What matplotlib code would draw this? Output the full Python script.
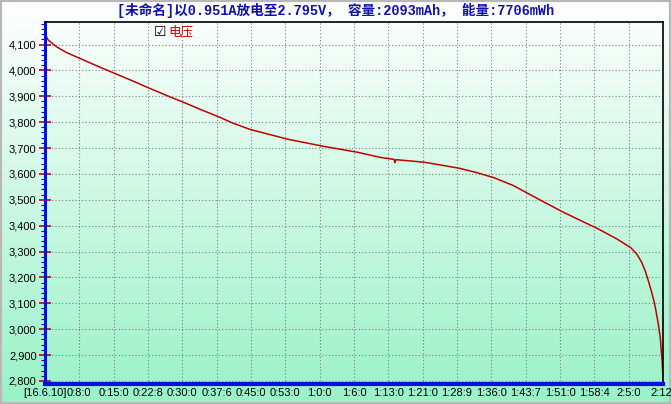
import numpy as np
import matplotlib
matplotlib.use('Agg')
import matplotlib.pyplot as plt
from matplotlib.ticker import MultipleLocator, FuncFormatter
from matplotlib.patches import Rectangle

plt.rcParams['font.family'] = ['Liberation Sans', 'Noto Sans CJK SC', 'DejaVu Sans']

# 放电曲线 (时间: 分钟, 电压: mV)
time_min = [0.0, 0.7, 2.5, 4.6, 8.0, 11.8, 15.1, 18.9, 22.2, 26.0, 30.1, 33.1,
            37.2, 40.2, 43.8, 51.9, 59.4, 66.7, 71.6, 74.6, 74.8, 75.0, 81.1,
            88.5, 92.3, 96.0, 100.1, 103.5, 107.2, 111.0, 114.7, 118.4, 122.2,
            125.2, 126.5, 127.5, 128.3, 129.0, 129.8, 130.4, 131.0, 131.5, 131.9,
            132.05, 132.1]
volt_mv = [4140, 4117, 4091, 4069, 4042, 4012, 3987, 3958, 3932, 3903, 3873, 3850,
           3820, 3796, 3772, 3734, 3707, 3684, 3664, 3656, 3643, 3655, 3645,
           3622, 3605, 3585, 3555, 3522, 3486, 3450, 3418, 3386, 3349,
           3315, 3290, 3260, 3225, 3185, 3135, 3090, 3030, 2970, 2880,
           2830, 2796]

x_labels = ['[16.6.10]', '0:8:0', '0:15:0', '0:22:8', '0:30:0', '0:37:6', '0:45:0',
            '0:53:0', '1:0:0', '1:6:0', '1:13:0', '1:21:0', '1:28:9', '1:36:0',
            '1:43:7', '1:51:0', '1:58:4', '2:5:0', '2:12:']
t_max = 132.1

title = '[未命名]以0.951A放电至2.795V， 容量:2093mAh， 能量:7706mWh'

fig = plt.figure(figsize=(6.71, 4.04), dpi=100)

# 背景渐变 (白 -> 浅绿)
bg = fig.add_axes([0, 0, 1, 1], zorder=-10)
grad = np.linspace(0, 1, 256)[:, None]
top_c = np.array([1.0, 1.0, 1.0])
bot_c = np.array([0.60, 0.95, 0.78])
img = top_c[None, None, :] * (1 - grad[:, :, None]) + bot_c[None, None, :] * grad[:, :, None]
bg.imshow(img, aspect='auto', extent=[0, 1, 0, 1], origin='upper')
bg.add_patch(Rectangle((0, 0), 1, 1, transform=bg.transAxes, fill=False,
                       edgecolor='#b8b8b8', lw=3))
bg.axis('off')

ax = fig.add_axes([45 / 671, 20 / 404, 618 / 671, 362 / 404])
ax.patch.set_alpha(0)
ax.plot(time_min, volt_mv, color='#c00000', lw=1.1)

ax.set_xlim(0, t_max)
ax.set_ylim(2788, 4187)

# x 轴: 18 等分
xt = np.linspace(0, t_max, len(x_labels))
ax.set_xticks(xt)
ax.set_xticklabels(x_labels, fontsize=8)
ax.tick_params(axis='x', length=0, pad=3)

ax.yaxis.set_major_locator(MultipleLocator(100))
ax.yaxis.set_minor_locator(MultipleLocator(20))
ax.yaxis.set_major_formatter(FuncFormatter(lambda v, p: f'{int(v):,}'))
ax.tick_params(axis='y', which='major', direction='inout', length=8, width=1.2,
               color='#c00020', labelsize=8, pad=2)
ax.tick_params(axis='y', which='minor', direction='out', length=3, width=0.8,
               color='#0000e0')
for lab in ax.get_xticklabels() + ax.get_yticklabels():
    lab.set_clip_on(False)

ax.grid(True, which='major', color='#808080', ls=(0, (1, 2)), lw=0.8)

ax.spines['left'].set_color('#0010e0')
ax.spines['left'].set_linewidth(2.2)
ax.spines['bottom'].set_color('#0010e0')
ax.spines['bottom'].set_linewidth(3)
ax.spines['top'].set_color('black')
ax.spines['right'].set_color('black')
ax.spines['top'].set_linewidth(1.2)
ax.spines['right'].set_linewidth(1.2)

fig.text(0.5, 1 - 10 / 404, title, ha='center', va='center', fontsize=9.8,
         color='#1010b0', fontweight='bold',
         family=['Liberation Mono', 'Noto Sans CJK SC', 'DejaVu Sans'])

# 图例: 复选框 + 电压
fig.text(154 / 671, 1 - 32 / 404, '☑', ha='left', va='center', fontsize=10,
         color='black', family=['DejaVu Sans'])
fig.text(168 / 671, 1 - 32 / 404, '电压', ha='left', va='center', fontsize=9,
         color='#c00000', family=['Noto Sans CJK SC', 'DejaVu Sans'])

fig.savefig('out.png', dpi=100)
